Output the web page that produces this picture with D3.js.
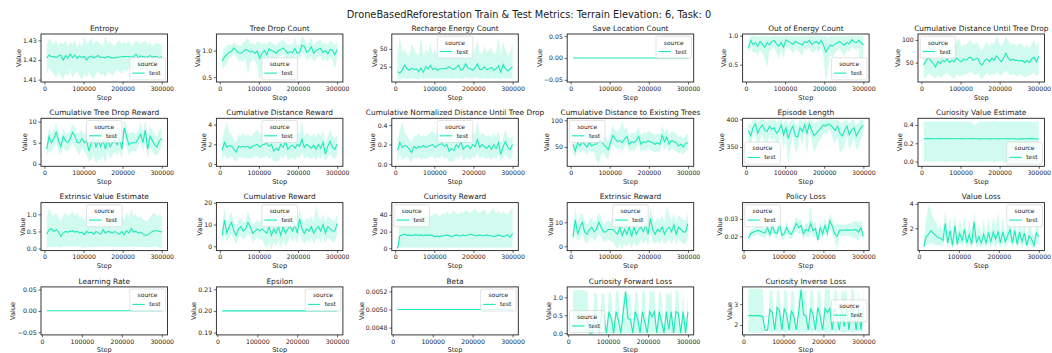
<!DOCTYPE html>
<html><head><meta charset="utf-8">
<script src="https://cdn.jsdelivr.net/npm/d3@7"></script>
<style>
body{margin:0;background:#fff}
svg{display:block}
text{font-family:"DejaVu Sans",sans-serif;fill:#222}
</style>
</head><body>
<svg id="c" width="1052" height="353"></svg>
<script>
// ---------- DATA ----------
const steps = [6000,12000,18000,24000,30000,36000,42000,48000,54000,60000,66000,72000,78000,84000,90000,96000,102000,108000,114000,120000,126000,132000,138000,144000,150000,156000,162000,168000,174000,180000,186000,192000,198000,204000,210000,216000,222000,228000,234000,240000,246000,252000,258000,264000,270000,276000,282000,288000,294000,300000];
const trainSteps = steps.slice(1);
const xTickValues = [0,100000,200000,300000];

const entropyMean = [1.4210,1.4225,1.4215,1.4218,1.4212,1.4220,1.4225,1.4200,1.4222,1.4210,1.4230,1.4212,1.4225,1.4208,1.4220,1.4212,1.4218,1.4200,1.4215,1.4220,1.4210,1.4218,1.4222,1.4212,1.4215,1.4210,1.4218,1.4212,1.4210,1.4212,1.4214,1.4215,1.4216,1.4217,1.4218,1.4218,1.4216,1.4215,1.4230,1.4212,1.4220,1.4218,1.4215,1.4215,1.4222,1.4215,1.4218,1.4215,1.4210,1.4218];
const entropyLo = [1.413,1.416,1.414,1.413,1.411,1.414,1.412,1.410,1.413,1.412,1.415,1.411,1.413,1.414,1.412,1.410,1.413,1.411,1.414,1.412,1.410,1.413,1.414,1.412,1.413,1.411,1.414,1.413,1.412,1.414,1.415,1.414,1.413,1.415,1.414,1.416,1.415,1.414,1.416,1.415,1.414,1.415,1.416,1.415,1.414,1.415,1.416,1.415,1.414,1.415];
const entropyHi = [1.428,1.431,1.429,1.428,1.430,1.427,1.429,1.428,1.430,1.427,1.429,1.428,1.430,1.426,1.429,1.427,1.432,1.428,1.429,1.431,1.428,1.430,1.429,1.428,1.427,1.432,1.428,1.429,1.428,1.427,1.429,1.430,1.428,1.429,1.428,1.430,1.427,1.428,1.430,1.429,1.428,1.429,1.430,1.428,1.429,1.427,1.428,1.429,1.428,1.428];

const treeDropMean = [0.80,0.88,0.93,0.97,0.98,1.05,1.00,0.96,0.95,0.98,1.02,1.00,0.97,0.99,0.95,0.99,0.85,0.95,1.00,0.92,1.03,1.00,0.98,0.95,1.00,1.02,1.05,1.00,0.95,0.98,0.96,1.04,0.95,0.97,1.10,1.08,0.97,1.00,1.07,0.95,1.00,1.03,1.04,0.96,1.00,0.94,1.02,1.00,0.92,1.02];
const treeDropLo = [0.65,0.70,0.75,0.85,0.88,0.95,0.88,0.80,0.82,0.78,0.85,0.55,0.75,0.85,0.80,0.70,0.41,0.70,0.85,0.72,0.88,0.85,0.82,0.80,0.88,0.90,0.92,0.85,0.80,0.85,0.80,0.90,0.82,0.85,0.95,0.92,0.82,0.85,0.90,0.80,0.85,0.88,0.90,0.80,0.85,0.78,0.88,0.82,0.65,0.85];
const treeDropHi = [0.95,1.05,1.10,1.12,1.10,1.15,1.12,1.10,1.08,1.15,1.18,1.25,1.12,1.15,1.10,1.18,1.15,1.12,1.15,1.10,1.18,1.15,1.12,1.10,1.15,1.18,1.20,1.15,1.10,1.12,1.12,1.25,1.10,1.12,1.28,1.22,1.12,1.15,1.25,1.10,1.15,1.18,1.20,1.12,1.15,1.10,1.18,1.15,1.10,1.18];

const rechargeMean = [18,16,20,27,22,20,23,21,22,18,23,17,25,22,27,21,23,20,22,22,22,23,25,22,21,24,27,20,22,29,23,22,20,23,29,21,21,25,21,22,24,20,22,26,17,28,22,19,22,25];
const rechargeLo = [8,7,8,9,8,8,9,8,8,7,9,7,9,8,9,8,9,8,8,9,8,9,9,8,8,9,9,8,8,10,9,8,8,9,10,8,8,9,8,8,9,8,8,9,7,9,8,8,8,9];
const rechargeHi = [40,68,45,50,42,40,58,48,45,40,68,38,50,45,58,42,50,40,45,48,42,50,55,45,42,50,60,42,48,62,50,45,42,50,62,45,42,55,45,48,52,42,45,68,40,60,48,40,45,58];

const saveMean = [0,0,0,0,0,0,0,0,0,0,0,0,0,0,0,0,0,0,0,0,0,0,0,0,0,0,0,0,0,0,0,0,0,0,0,0,0,0,0,0,0,0,0,0,0,0,0,0,0,0];

const outEnergyMean = [0.78,0.92,0.85,0.88,0.82,0.90,0.85,0.80,0.88,0.84,0.90,0.92,0.86,0.82,0.88,0.80,0.93,0.90,0.88,0.85,0.90,0.88,0.86,0.84,0.90,0.88,0.92,0.85,0.88,0.90,0.86,0.92,0.84,0.72,0.78,0.84,0.82,0.86,0.88,0.90,0.86,0.84,0.88,0.86,0.93,0.90,0.88,0.92,0.88,0.84];
const outEnergyLo = [0.72,0.80,0.70,0.72,0.65,0.75,0.70,0.60,0.45,0.72,0.78,0.80,0.70,0.62,0.75,0.60,0.82,0.78,0.75,0.68,0.78,0.75,0.70,0.65,0.78,0.75,0.80,0.70,0.72,0.78,0.70,0.80,0.65,0.20,0.45,0.68,0.62,0.72,0.75,0.78,0.70,0.65,0.75,0.72,0.82,0.78,0.75,0.80,0.35,0.70];
const outEnergyHi = [0.88,1.0,1.0,1.0,0.98,1.0,1.0,1.0,1.0,0.98,1.0,1.0,1.0,1.0,1.0,1.0,1.0,1.0,1.0,1.0,1.0,1.0,1.0,1.0,1.0,1.0,1.0,1.0,1.0,1.0,1.0,1.0,1.0,1.0,0.95,1.0,1.0,1.0,1.0,1.0,1.0,1.0,1.0,1.0,1.0,1.0,1.0,1.0,1.0,1.0];

const distUntilMean = [45,55,60,55,48,40,52,48,55,52,58,50,55,52,60,55,52,58,55,60,62,55,58,60,48,45,55,58,52,60,55,65,58,52,60,70,60,55,57,55,55,54,55,50,55,50,58,62,52,64];
const distUntilLo = [15,18,25,22,20,15,22,18,20,25,28,22,18,15,25,22,20,25,22,28,30,25,22,28,18,15,22,28,20,25,22,30,25,20,28,32,28,22,25,22,20,25,22,18,20,22,25,28,20,25];
const distUntilHi = [75,85,100,90,80,70,85,80,90,88,95,80,85,90,95,105,85,90,88,95,100,90,92,95,80,78,90,95,85,95,90,110,95,85,95,108,98,90,92,90,88,92,90,82,90,80,92,100,85,100];

const treeRewardMean = [3.5,6.5,5.0,6.0,7.5,5.5,4.0,6.5,5.5,5.0,6.0,7.5,6.5,5.0,5.0,6.0,5.0,5.5,3.0,5.0,6.0,4.0,5.5,4.0,5.5,3.5,6.0,4.0,5.0,5.5,4.5,6.0,3.5,8.5,6.5,4.5,5.0,5.0,5.0,6.0,7.0,5.0,8.0,3.5,6.5,5.5,4.5,4.0,5.5,6.0];
const treeRewardLo = [2,3,3,4,5,3,2,4,3,3,4,5,4,3,2,4,3,2,0.5,1,2,0,1,1,2,0,3,1,2,3,2,3,1,6,4,2,3,3,3,4,5,3,5,1,4,3,2,2,3,4];
const treeRewardHi = [5,8.8,7,8,9.5,7.5,6,8.5,7.5,7,8,9.5,8.5,7,7.5,8,7,8,6,8,8.5,7,8,7,8,6.5,8.5,7,8,8,7,8.5,6,10.5,9,7,7.5,7.5,7,8,10,7.5,10.5,6,9,8,7,6.5,8,8.5];

const distRewardMean = [1.4,2.2,1.7,1.9,1.8,1.5,1.2,1.8,1.7,1.8,1.7,1.8,1.6,1.8,1.9,2.0,1.7,1.9,2.0,2.1,1.8,2.0,1.3,1.6,1.4,2.0,1.7,2.3,1.5,1.8,1.9,1.6,2.0,1.8,2.5,1.7,2.0,1.8,1.6,1.9,1.5,2.0,1.6,2.2,1.0,1.8,2.3,1.7,1.5,2.0];
const distRewardLo = [0.3,1.0,0.5,0.6,0.8,0.4,0.2,0.7,0.6,0.7,0.5,0.6,0.5,0.6,0.8,0.8,0.5,0.7,0.6,0.9,0.5,0.7,0.2,0.3,0.3,0.8,0.5,1.0,0.4,0.5,0.7,0.4,0.8,0.6,1.2,0.5,0.8,0.6,0.5,0.7,0.4,0.8,0.5,1.0,0.3,0.6,1.0,0.6,0.5,0.8];
const distRewardHi = [2.5,3.5,4.3,3.2,3.0,2.5,2.2,3.0,2.8,3.2,2.8,3.0,2.8,3.0,3.2,3.5,3.0,3.2,3.2,3.5,3.0,3.2,2.6,2.8,2.6,3.2,2.8,3.6,2.7,3.0,3.2,2.8,3.3,3.0,4.5,2.8,3.2,3.0,2.8,3.0,2.7,3.2,2.8,3.4,2.0,2.8,3.5,2.8,2.6,2.9];

const normDistMean = [0.14,0.22,0.17,0.19,0.18,0.15,0.12,0.18,0.16,0.18,0.17,0.19,0.17,0.18,0.19,0.20,0.17,0.19,0.20,0.21,0.18,0.20,0.13,0.16,0.14,0.20,0.17,0.23,0.15,0.18,0.19,0.16,0.20,0.18,0.25,0.17,0.20,0.18,0.16,0.19,0.15,0.20,0.16,0.22,0.10,0.18,0.23,0.17,0.15,0.20];
const normDistLo = [0.03,0.10,0.05,0.06,0.08,0.04,0.02,0.07,0.06,0.07,0.05,0.06,0.05,0.06,0.08,0.08,0.05,0.07,0.06,0.09,0.05,0.07,0.02,0.03,0.03,0.08,0.05,0.10,0.04,0.05,0.07,0.04,0.08,0.06,0.12,0.05,0.08,0.06,0.05,0.07,0.04,0.08,0.05,0.10,0.03,0.06,0.10,0.06,0.05,0.08];
const normDistHi = [0.25,0.35,0.44,0.32,0.30,0.25,0.22,0.30,0.28,0.32,0.28,0.30,0.28,0.30,0.32,0.35,0.30,0.32,0.32,0.35,0.30,0.32,0.26,0.28,0.26,0.32,0.28,0.36,0.27,0.30,0.32,0.28,0.33,0.30,0.45,0.28,0.32,0.30,0.28,0.30,0.27,0.32,0.28,0.34,0.22,0.28,0.35,0.28,0.26,0.29];

const distTreesMean = [55,42,58,52,60,55,50,58,52,55,55,60,62,55,50,45,58,72,65,60,62,58,65,70,55,60,58,62,70,55,60,58,62,60,58,55,58,55,72,60,68,55,62,60,58,52,55,50,57,58];
const distTreesLo = [40,30,45,38,45,40,35,45,40,40,25,17,35,40,30,28,45,55,50,45,48,42,50,55,40,45,42,48,55,40,45,42,48,45,42,40,42,40,58,45,52,40,48,45,42,38,40,35,42,45];
const distTreesHi = [70,55,72,65,75,70,65,72,68,70,70,78,80,72,68,62,75,90,82,78,85,100,82,88,72,78,75,80,88,72,78,75,80,78,75,72,75,72,90,78,85,72,80,78,75,68,72,65,72,75];

const episodeMean = [380,370,385,392,375,385,390,380,378,388,382,385,375,380,390,372,385,365,380,388,370,368,385,378,390,375,392,380,370,375,380,385,390,388,392,390,385,380,388,375,370,380,388,372,380,385,370,378,385,390];
const episodeLo = [360,355,370,375,340,365,372,355,350,372,360,368,335,358,375,345,368,318,350,372,340,345,368,352,378,335,380,360,340,350,360,365,375,372,380,378,365,355,370,340,345,350,372,345,355,365,345,350,365,372];
const episodeHi = [395,390,400,400,395,400,400,398,395,400,398,400,395,398,400,392,400,390,398,400,392,390,400,395,400,395,400,398,392,395,398,400,400,400,400,400,400,398,400,395,392,398,400,392,398,400,390,395,400,400];

const curValMean = [0.252,0.250,0.252,0.251,0.250,0.249,0.250,0.251,0.250,0.249,0.250,0.251,0.250,0.249,0.250,0.250,0.251,0.250,0.249,0.250,0.250,0.251,0.250,0.249,0.248,0.249,0.250,0.249,0.248,0.249,0.250,0.249,0.248,0.249,0.250,0.249,0.248,0.249,0.250,0.248,0.247,0.249,0.248,0.249,0.250,0.251,0.252,0.250,0.248,0.247];
const curValLo = [0.000,0.002,0.004,0.001,-0.003,0.000,0.001,0.004,0.000,-0.003,0.000,0.001,0.004,0.000,-0.004,0.000,0.001,0.004,0.000,0.001,-0.004,0.000,0.004,0.000,0.001,-0.004,0.000,0.001,0.004,0.000,-0.004,0.000,0.001,0.004,0.000,-0.008,0.000,0.004,0.000,0.001,-0.004,0.000,0.001,-0.008,0.000,0.004,0.000,0.001,-0.004,0.000];
const curValHi = [0.440,0.432,0.440,0.438,0.434,0.440,0.438,0.440,0.432,0.440,0.438,0.440,0.436,0.432,0.440,0.438,0.440,0.436,0.440,0.432,0.440,0.410,0.400,0.428,0.440,0.438,0.440,0.432,0.440,0.438,0.440,0.436,0.432,0.440,0.438,0.440,0.436,0.432,0.440,0.438,0.440,0.436,0.432,0.440,0.438,0.440,0.436,0.432,0.440,0.438];

const extValMean = [0.42,0.55,0.58,0.50,0.55,0.48,0.35,0.45,0.50,0.48,0.50,0.52,0.48,0.50,0.45,0.48,0.40,0.50,0.45,0.48,0.42,0.50,0.45,0.42,0.55,0.45,0.50,0.48,0.45,0.50,0.45,0.42,0.50,0.40,0.52,0.45,0.58,0.48,0.50,0.45,0.48,0.42,0.38,0.40,0.45,0.50,0.52,0.52,0.50,0.48];
const extValLo = [0.03,0.05,0.05,0.04,0.06,0.05,0.03,0.05,0.06,0.05,0.05,0.06,0.05,0.06,0.05,0.04,0.02,0.03,0.05,0.04,0.03,0.05,0.04,0.05,0.06,0.05,0.06,0.05,0.04,0.05,0.04,0.05,0.06,0.04,0.05,0.04,0.06,0.05,0.06,0.05,0.04,0.05,0.04,0.04,0.03,0.05,0.06,0.05,0.02,0.04];
const extValHi = [0.85,1.18,1.00,0.95,1.05,0.90,0.80,0.95,1.05,0.95,1.00,1.10,0.95,1.05,0.90,0.95,0.82,1.00,0.90,1.00,0.85,1.05,0.90,0.85,1.12,0.90,1.00,0.95,0.88,1.05,0.90,0.85,1.00,0.82,1.05,0.90,1.15,0.95,1.00,0.90,0.95,0.85,0.80,0.82,0.90,1.00,1.05,0.92,1.00,0.95];

const cumRewardMean = [5,12,6,9,11,7,5,8,9,7,8,11,9,6,7,8,7,8,7,6,9,5,8,6,9,5,9,6,8,9,7,10,6,12.5,8,6,8,7,9,6,8,9,7,10,6,9,8,7,7,10.5];
const cumRewardLo = [1,6,2,4,6,3,1,4,5,3,4,6,5,2,3,4,3,3,1,-1,2,-1.5,2,0,3,-1,3,0,2,4,2,4,1,7,3,1,3,2,4,1,3,4,2,5,1,4,3,2,2,5];
const cumRewardHi = [9,18,10,14,16,11,9,12,13,11,12,16,13,10,11,12,11,13,13,13,16,12,14,12,15,11,15,12,14,14,12,16,11,18,13,11,13,12,14,11,19,14,12,15,11,14,13,12,12,15];

const curRewardMean = [0,15,16,17,15.5,16,15,16,16,15.5,16,15,16,15.5,16,15,14,14.5,14,15,15,16,15,14,15,16,15,15,16,15,16,17,16,15,15,16,15,15,16,15,15,14,15,16,15,14,15,16,13,17.5];
const curRewardLo = [0,0.8,0.8,0.8,0.8,0.8,0.8,0.8,0.8,0.8,0.8,0.8,0.8,0.8,0.8,0.8,0.8,0.8,0.8,0.8,0.8,0.8,0.8,0.8,0.8,0.8,0.8,0.8,0.8,0.8,0.8,0.8,0.8,0.8,0.8,0.8,0.8,0.8,0.8,0.8,0.8,0.8,0.8,0.8,0.8,0.8,0.8,0.8,0.8,0.8];
const curRewardHi = [0,45,40,42,38,40,42,40,38,42,40,38,40,42,38,40,42,40,38,42,40,44,40,42,45,42,40,44,42,46,44,42,45,48,44,42,45,47,40,42,46,48,42,45,40,44,42,40,44,50];

const extRewardMean = [4,11,5,8,10,6,5,7,8,6,7,10,8,6,6,7,7,7,6,5,8,4.5,7,5,8,4,8,5,7,8,6,9,5,11.5,7,5,7,6,8,5,7,8,6,9,5,8,7,6,6,9.5];
const extRewardLo = [1,5,2,3,5,2,1,3,4,2,3,5,4,2,2,3,2,2,0,-1,1,-1,1,0,2,-1,2,0,1,3,1,3,0,6,2,1,2,1,3,1,2,3,1,4,1,3,2,1,1,4];
const extRewardHi = [8,16,9,13,14,10,9,11,12,10,11,14,12,9,10,11,10,12,12,12,15,11,13,11,14,10,14,11,13,13,11,15,10,16,12,10,12,11,13,10,17,13,11,14,10,13,12,11,11,14];

const policyMean = [0.0190,0.0215,0.0225,0.0228,0.0235,0.0230,0.0222,0.0220,0.0250,0.0210,0.0260,0.0222,0.0218,0.0270,0.0205,0.0215,0.0250,0.0220,0.0212,0.0240,0.0275,0.0250,0.0262,0.0215,0.0240,0.0230,0.0275,0.0232,0.0245,0.0180,0.0250,0.0215,0.0262,0.0220,0.0290,0.0260,0.0215,0.0200,0.0235,0.0236,0.0235,0.0237,0.0236,0.0235,0.0237,0.0238,0.0225,0.0250,0.0200];
const policyLo = [0.0165,0.0190,0.0200,0.0205,0.0210,0.0200,0.0195,0.0190,0.0215,0.0185,0.0225,0.0195,0.0190,0.0235,0.0180,0.0185,0.0215,0.0190,0.0185,0.0205,0.0235,0.0210,0.0220,0.0180,0.0200,0.0190,0.0215,0.0195,0.0200,0.0155,0.0210,0.0180,0.0220,0.0185,0.0250,0.0215,0.0175,0.0125,0.0200,0.0205,0.0200,0.0205,0.0200,0.0195,0.0190,0.0185,0.0175,0.0205,0.0170];
const policyHi = [0.0215,0.0240,0.0250,0.0252,0.0260,0.0260,0.0250,0.0250,0.0285,0.0240,0.0295,0.0250,0.0245,0.0305,0.0230,0.0245,0.0285,0.0250,0.0240,0.0275,0.0315,0.0290,0.0300,0.0250,0.0280,0.0270,0.0380,0.0270,0.0290,0.0210,0.0290,0.0250,0.0305,0.0255,0.0330,0.0305,0.0255,0.0275,0.0270,0.0265,0.0270,0.0270,0.0272,0.0275,0.0285,0.0290,0.0280,0.0295,0.0235];

const valueLossMean = [0.5,1.3,1.5,1.8,1.6,1.4,1.2,1.2,1.0,2.4,0.8,1.8,0.6,2.2,0.7,1.6,1.0,1.9,0.8,1.5,0.7,2.5,0.8,1.3,0.8,1.5,0.8,1.6,0.9,1.7,1.1,1.7,0.8,1.7,0.9,1.4,1.9,0.8,1.8,0.7,1.7,0.9,1.6,0.6,1.4,1.1,0.6,1.6,1.3];
const valueLossLo = [0.3,0.6,0.7,0.8,0.7,0.6,0.6,0.6,0.5,1.2,0.4,0.9,0.35,1.0,0.4,0.8,0.5,0.9,0.4,0.7,0.35,1.2,0.4,0.6,0.4,0.7,0.4,0.8,0.45,0.8,0.5,0.8,0.4,0.8,0.45,0.7,0.9,0.4,0.9,0.35,0.8,0.45,0.8,0.3,0.7,0.5,0.3,0.8,0.6];
const valueLossHi = [0.9,2.8,3.9,3.5,2.8,2.5,2.0,2.2,1.8,3.6,1.6,3.0,1.2,3.3,1.4,2.8,1.8,3.0,1.5,2.6,1.4,3.5,1.6,2.4,1.5,2.6,1.5,2.8,1.7,3.0,2.0,3.4,1.5,2.9,1.6,2.5,3.2,1.5,3.0,1.4,2.9,1.7,2.8,1.2,2.5,2.0,1.2,2.7,2.2];

const lrMean = [0.0003,0.0003,0.0003,0.0003,0.0003,0.0003,0.0003,0.0003,0.0003,0.0003,0.0003,0.0003,0.0003,0.0003,0.0003,0.0003,0.0003,0.0003,0.0003,0.0003,0.0003,0.0003,0.0003,0.0003,0.0003,0.0003,0.0003,0.0003,0.0003,0.0003,0.0003,0.0003,0.0003,0.0003,0.0003,0.0003,0.0003,0.0003,0.0003,0.0003,0.0003,0.0003,0.0003,0.0003,0.0003,0.0003,0.0003,0.0003,0.0003];
const epsilonMean = [0.2,0.2,0.2,0.2,0.2,0.2,0.2,0.2,0.2,0.2,0.2,0.2,0.2,0.2,0.2,0.2,0.2,0.2,0.2,0.2,0.2,0.2,0.2,0.2,0.2,0.2,0.2,0.2,0.2,0.2,0.2,0.2,0.2,0.2,0.2,0.2,0.2,0.2,0.2,0.2,0.2,0.2,0.2,0.2,0.2,0.2,0.2,0.2,0.2];
const betaMean = [0.005,0.005,0.005,0.005,0.005,0.005,0.005,0.005,0.005,0.005,0.005,0.005,0.005,0.005,0.005,0.005,0.005,0.005,0.005,0.005,0.005,0.005,0.005,0.005,0.005,0.005,0.005,0.005,0.005,0.005,0.005,0.005,0.005,0.005,0.005,0.005,0.005,0.005,0.005,0.005,0.005,0.005,0.005,0.005,0.005,0.005,0.005,0.005,0.005];

const fwdMean = [0.45,0.45,0.45,0.45,0.45,0.45,0.42,0.0,0.0,0.6,0.45,0.0,0.6,0.45,0.0,0.6,0.4,0.0,0.6,0.35,0.0,0.6,1.15,0.4,0.38,0.0,0.6,0.4,0.0,0.6,0.3,0.0,0.6,0.45,0.6,0.0,0.6,0.3,0.0,0.6,0.1,0.6,0.0,0.6,0.55,0.0,0.6,0.0,0.6];
const fwdLo = [0,0,0,0,0,0,0,0,0,0,0,0,0,0,0,0,0,0,0,0,0,0,0,0,0,0,0,0,0,0,0,0,0,0,0,0,0,0,0,0,0,0,0,0,0,0,0,0,0];
const fwdHi = [1.18,1.19,1.2,1.2,1.19,1.18,1.17,0.0,0.0,1.15,1.1,0.0,1.12,1.1,0.0,1.15,1.12,0.0,1.18,1.15,0.0,1.1,1.2,1.05,1.1,0.0,1.15,1.12,0.0,1.2,1.15,0.0,1.2,1.15,1.18,0.0,1.2,1.1,0.0,1.15,1.05,1.18,0.0,1.2,1.15,0.0,1.18,0.0,1.15];

const invMean = [2.45,2.45,2.45,2.45,2.45,2.44,2.40,1.75,1.75,2.75,2.6,1.75,2.85,2.7,1.75,2.8,2.5,1.75,2.7,2.4,1.75,2.6,3.7,2.5,2.45,1.75,2.8,2.5,1.75,2.85,2.4,1.75,2.8,2.6,2.8,1.75,2.8,2.4,1.75,2.85,1.9,2.8,1.75,2.8,2.7,1.75,2.75,1.75,2.85];
const invLo = [1.62,1.62,1.62,1.62,1.62,1.62,1.62,1.75,1.75,1.62,1.62,1.75,1.62,1.62,1.75,1.62,1.62,1.75,1.62,1.62,1.75,1.62,1.62,1.62,1.62,1.75,1.62,1.62,1.75,1.62,1.62,1.75,1.62,1.62,1.62,1.75,1.62,1.62,1.75,1.62,1.62,1.62,1.75,1.62,1.62,1.75,1.62,1.75,1.62];
const invHi = [3.75,3.75,3.75,3.75,3.75,3.74,3.72,1.75,1.75,3.7,3.65,1.75,3.7,3.68,1.75,3.72,3.65,1.75,3.7,3.62,1.75,3.68,3.78,3.6,3.65,1.75,3.72,3.65,1.75,3.75,3.6,1.75,3.75,3.7,3.72,1.75,3.75,3.6,1.75,3.72,3.55,3.7,1.75,3.75,3.7,1.75,3.7,1.75,3.72];

// ---------- PANEL CONFIG ----------
const panels = [
  {title:"Entropy", x:steps, m:entropyMean, lo:entropyLo, hi:entropyHi, dom:[1.4088,1.4332], ticks:[1.41,1.42,1.43], fmt:".2f", legend:"lower right"},
  {title:"Tree Drop Count", x:steps, m:treeDropMean, lo:treeDropLo, hi:treeDropHi, dom:[0.41,1.31], ticks:[0.5,1.0], fmt:".1f", legend:"lower center"},
  {title:"Recharge Energy Count", x:steps, m:rechargeMean, lo:rechargeLo, hi:rechargeHi, dom:[3.4,71], ticks:[25,50], fmt:"d", legend:"upper center"},
  {title:"Save Location Count", x:steps, m:saveMean, lo:saveMean, hi:saveMean, dom:[-0.055,0.055], ticks:[-0.05,0,0.05], fmt:".2f", legend:"upper right"},
  {title:"Out of Energy Count", x:steps, m:outEnergyMean, lo:outEnergyLo, hi:outEnergyHi, dom:[0.2,1.03], ticks:[0.5,1.0], fmt:".1f", legend:"lower right"},
  {title:"Cumulative Distance Until Tree Drop", x:steps, m:distUntilMean, lo:distUntilLo, hi:distUntilHi, dom:[7.4,113], ticks:[50,100], fmt:"d", legend:"upper left"},
  {title:"Cumulative Tree Drop Reward", x:steps, m:treeRewardMean, lo:treeRewardLo, hi:treeRewardHi, dom:[-0.6,10.8], ticks:[0,5,10], fmt:"d", legend:"upper center"},
  {title:"Cumulative Distance Reward", x:steps, m:distRewardMean, lo:distRewardLo, hi:distRewardHi, dom:[-0.23,4.64], ticks:[0,2,4], fmt:"d", legend:"upper center"},
  {title:"Cumulative Normalized Distance Until Tree Drop", x:steps, m:normDistMean, lo:normDistLo, hi:normDistHi, dom:[-0.023,0.469], ticks:[0,0.2,0.4], fmt:".1f", legend:"upper center"},
  {title:"Cumulative Distance to Existing Trees", x:steps, m:distTreesMean, lo:distTreesLo, hi:distTreesHi, dom:[13.8,103.7], ticks:[50,100], fmt:"d", legend:"upper left"},
  {title:"Episode Length", x:steps, m:episodeMean, lo:episodeLo, hi:episodeHi, dom:[315,402], ticks:[350,400], fmt:"d", legend:"lower left"},
  {title:"Curiosity Value Estimate", x:steps, m:curValMean, lo:curValLo, hi:curValHi, dom:[-0.051,0.473], ticks:[0,0.2,0.4], fmt:".1f", legend:"lower right"},
  {title:"Extrinsic Value Estimate", x:steps, m:extValMean, lo:extValLo, hi:extValHi, dom:[-0.06,1.34], ticks:[0,0.5,1.0], fmt:".1f", legend:"upper center"},
  {title:"Cumulative Reward", x:steps, m:cumRewardMean, lo:cumRewardLo, hi:cumRewardHi, dom:[-2,20.1], ticks:[0,10,20], fmt:"d", legend:"upper center"},
  {title:"Curiosity Reward", x:steps, m:curRewardMean, lo:curRewardLo, hi:curRewardHi, dom:[-2.8,54.7], ticks:[0,20,40], fmt:"d", legend:"upper left"},
  {title:"Extrinsic Reward", x:steps, m:extRewardMean, lo:extRewardLo, hi:extRewardHi, dom:[-1.8,18.2], ticks:[0,10], fmt:"d", legend:"upper center"},
  {title:"Policy Loss", x:trainSteps, m:policyMean, lo:policyLo, hi:policyHi, dom:[0.0118,0.0394], ticks:[0.02,0.03], fmt:".2f", legend:"upper left"},
  {title:"Value Loss", x:trainSteps, m:valueLossMean, lo:valueLossLo, hi:valueLossHi, dom:[0.17,4.1], ticks:[2,4], fmt:"d", legend:"upper right"},
  {title:"Learning Rate", x:trainSteps, m:lrMean, lo:lrMean, hi:lrMean, dom:[-0.056,0.056], ticks:[-0.05,0,0.05], fmt:".2f", legend:"upper right"},
  {title:"Epsilon", x:trainSteps, m:epsilonMean, lo:epsilonMean, hi:epsilonMean, dom:[0.1889,0.2111], ticks:[0.19,0.2,0.21], fmt:".2f", legend:"upper right"},
  {title:"Beta", x:trainSteps, m:betaMean, lo:betaMean, hi:betaMean, dom:[0.00472,0.00525], ticks:[0.0048,0.005,0.0052], fmt:".4f", legend:"upper right"},
  {title:"Curiosity Forward Loss", x:trainSteps, m:fwdMean, lo:fwdLo, hi:fwdHi, dom:[-0.05,1.29], ticks:[0,0.5,1.0], fmt:".1f", legend:"lower left"},
  {title:"Curiosity Inverse Loss", x:trainSteps, m:invMean, lo:invLo, hi:invHi, dom:[1.52,3.84], ticks:[2,3], fmt:"d", legend:"center right"}
];

// ---------- DRAW ----------
const svg = d3.select("#c");
const color = "#1de9b6";
const W = 126.5, H = 48;
const colX = c => 41 + c * 175.4;
const rowY = r => 34 + r * 84.3;

svg.append("text").attr("x", 529).attr("y", 17.5).attr("text-anchor", "middle")
  .style("font-size", "9.8px").text("DroneBasedReforestation Train & Test Metrics: Terrain Elevation: 6, Task: 0");

panels.forEach((p, i) => {
  const r = Math.floor(i / 6), c = i % 6;
  const g = svg.append("g").attr("transform", `translate(${colX(c)},${rowY(r)})`);
  const s0 = d3.min(p.x), s1 = d3.max(p.x), pad = 0.05 * (s1 - s0);
  const x = d3.scaleLinear().domain([s0 - pad, s1 + pad]).range([0, W]);
  const y = d3.scaleLinear().domain(p.dom).range([H, 0]);
  const data = p.x.map((s, k) => ({s, m: p.m[k], lo: p.lo[k], hi: p.hi[k]}));

  const cid = "clip" + i;
  g.append("clipPath").attr("id", cid).append("rect").attr("width", W).attr("height", H);
  const pg = g.append("g").attr("clip-path", `url(#${cid})`);
  pg.append("path").datum(data)
    .attr("d", d3.area().x(d => x(d.s)).y0(d => y(d.lo)).y1(d => y(d.hi)))
    .attr("fill", color).attr("fill-opacity", 0.2).attr("stroke", "none");
  pg.append("path").datum(data)
    .attr("d", d3.line().x(d => x(d.s)).y(d => y(d.m)))
    .attr("fill", "none").attr("stroke", color).attr("stroke-width", 1.1);

  const xa = g.append("g").attr("transform", `translate(0,${H})`)
    .call(d3.axisBottom(x).tickValues(xTickValues).tickFormat(d3.format("d")).tickSize(2.5).tickPadding(1.8));
  const ya = g.append("g")
    .call(d3.axisLeft(y).tickValues(p.ticks).tickFormat(d3.format(p.fmt)).tickSize(2.5).tickPadding(1.8));
  [xa, ya].forEach(a => {
    a.select(".domain").remove();
    a.selectAll(".tick line").attr("stroke", "#222").attr("stroke-width", 0.7);
    a.selectAll(".tick text").style("font-size", "6.2px").attr("fill", "#222").style("font-family", '"DejaVu Sans",sans-serif');
  });

  g.append("rect").attr("width", W).attr("height", H).attr("fill", "none")
    .attr("stroke", "#222").attr("stroke-width", 0.9);

  g.append("text").attr("x", W / 2).attr("y", -3.2).attr("text-anchor", "middle")
    .style("font-size", "7.4px").text(p.title);
  g.append("text").attr("x", W / 2).attr("y", H + 17.5).attr("text-anchor", "middle")
    .style("font-size", "6.6px").text("Step");
  const bb = ya.node().getBBox();
  g.append("text").attr("transform", `translate(${bb.x - 2.3},${H / 2}) rotate(-90)`)
    .attr("text-anchor", "middle").style("font-size", "6.6px").text("Value");

  // legend
  const lw = 35.5, lh = 22, lp = 2.2;
  let lx, ly;
  const loc = p.legend;
  if (loc.includes("left")) lx = lp;
  else if (loc.includes("right")) lx = W - lp - lw;
  else lx = (W - lw) / 2;
  if (loc.startsWith("upper")) ly = lp;
  else if (loc.startsWith("lower")) ly = H - lp - lh;
  else ly = (H - lh) / 2;
  const lg = g.append("g").attr("transform", `translate(${lx},${ly})`);
  lg.append("rect").attr("width", lw).attr("height", lh).attr("rx", 1.5)
    .attr("fill", "#fff").attr("fill-opacity", 0.8).attr("stroke", "#d0d0d0").attr("stroke-width", 0.6);
  lg.append("text").attr("x", lw / 2).attr("y", 8.4).attr("text-anchor", "middle")
    .style("font-size", "6px").text("source");
  lg.append("line").attr("x1", 2.5).attr("x2", 15).attr("y1", 15.3).attr("y2", 15.3)
    .attr("stroke", color).attr("stroke-width", 1.1);
  lg.append("text").attr("x", 19.5).attr("y", 17.4).style("font-size", "5.8px").text("test");
});
</script>
</body></html>
